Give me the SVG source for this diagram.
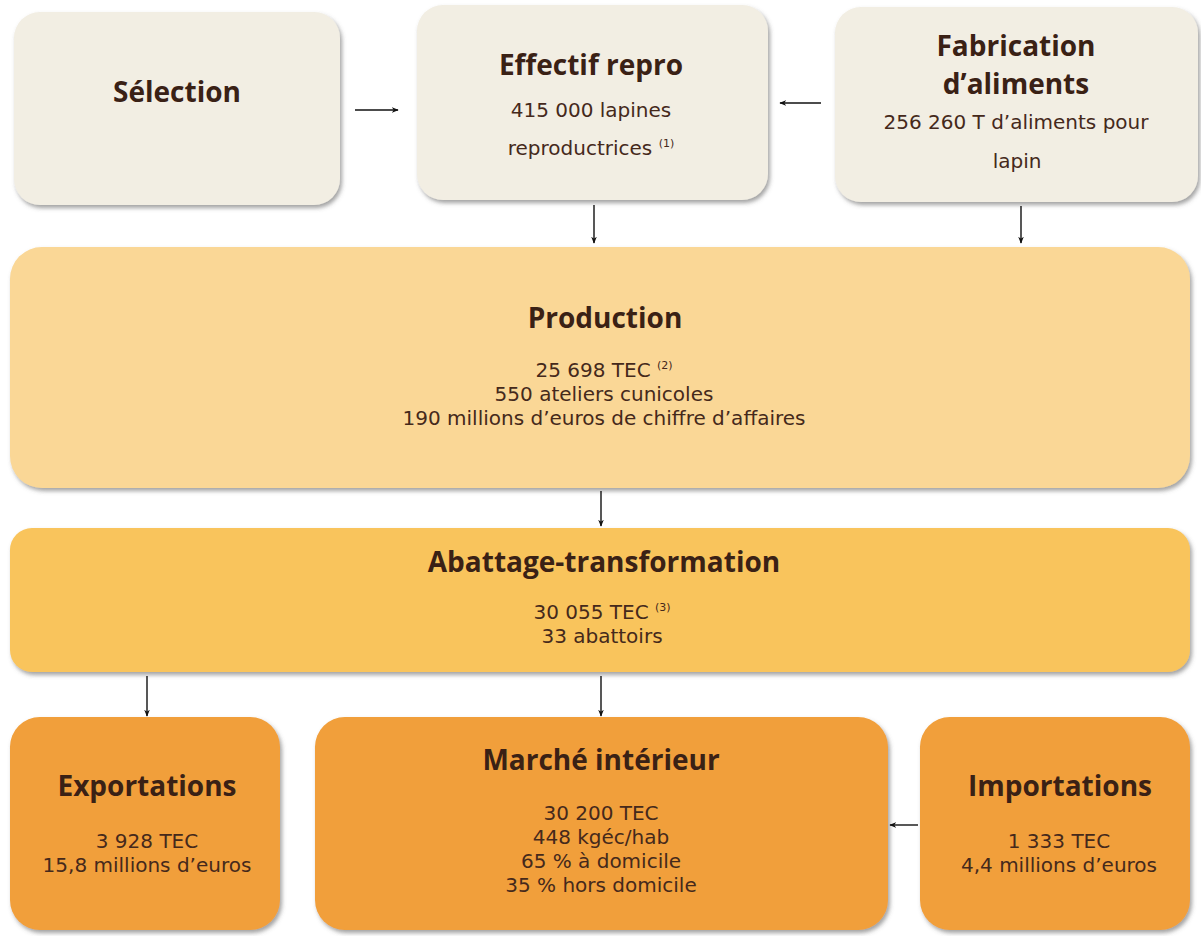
<svg xmlns="http://www.w3.org/2000/svg" width="1201" height="936" viewBox="0 0 1201 936">
<defs>
<filter id="sh" x="-5%" y="-5%" width="112%" height="115%">
<feDropShadow dx="2" dy="3" stdDeviation="2" flood-color="#555" flood-opacity="0.55"/>
</filter>
<marker id="ah" viewBox="0 0 10 10" refX="9" refY="5" markerWidth="7" markerHeight="7" orient="auto" markerUnits="userSpaceOnUse">
<path d="M0,1 L10,5 L0,9 L3,5 z" fill="#111"/>
</marker>
</defs>
<style>
.t{font-family:"Open Sans","Liberation Sans",sans-serif;font-weight:bold;fill:#3a2115;text-anchor:middle;font-size:28px}
.b{font-family:"DejaVu Sans","Open Sans",sans-serif;fill:#45291b;text-anchor:middle;font-size:20px}
.s{font-size:11px}
.top{fill:#f2eee3;filter:url(#sh)}
.prod{fill:#fad796;filter:url(#sh)}
.aba{fill:#f9c45b;filter:url(#sh)}
.bot{fill:#f19f3a;filter:url(#sh)}
.c{stroke:#111;stroke-width:1.4;fill:none;marker-end:url(#ah)}
</style>
<rect width="1201" height="936" fill="#ffffff"/>
<g id="selection">
<rect class="top" x="14" y="12" width="326" height="193" rx="26"/>
<text class="t" x="177" y="102">Sélection</text>
</g>
<g id="effectif">
<rect class="top" x="417" y="5" width="351" height="195" rx="26"/>
<text class="t" x="591" y="75">Effectif repro</text>
<text class="b" x="591" y="117">415 000 lapines</text>
<text class="b" x="591" y="155">reproductrices <tspan class="s" dy="-8">(1)</tspan></text>
</g>
<g id="fabrication">
<rect class="top" x="835" y="7" width="363" height="195" rx="26"/>
<text class="t" x="1016" y="56" font-size="27">Fabrication</text>
<text class="t" x="1016" y="93.5" font-size="27">d’aliments</text>
<text class="b" x="1016" y="129">256 260 T d’aliments pour</text>
<text class="b" x="1017" y="168">lapin</text>
</g>
<g id="production">
<rect class="prod" x="10" y="247" width="1180" height="241" rx="32"/>
<text class="t" x="605" y="328">Production</text>
<text class="b" x="604" y="377">25 698 TEC <tspan class="s" dy="-8">(2)</tspan></text>
<text class="b" x="604" y="401">550 ateliers cunicoles</text>
<text class="b" x="604" y="425">190 millions d’euros de chiffre d’affaires</text>
</g>
<g id="abattage">
<rect class="aba" x="10" y="528" width="1180" height="144" rx="22"/>
<text class="t" x="604" y="572">Abattage-transformation</text>
<text class="b" x="602" y="619">30 055 TEC <tspan class="s" dy="-8">(3)</tspan></text>
<text class="b" x="602" y="643">33 abattoirs</text>
</g>
<g id="exportations">
<rect class="bot" x="10" y="717" width="270" height="213" rx="30"/>
<text class="t" x="147" y="796">Exportations</text>
<text class="b" x="147" y="848">3 928 TEC</text>
<text class="b" x="147" y="872">15,8 millions d’euros</text>
</g>
<g id="marche">
<rect class="bot" x="315" y="717" width="573" height="213" rx="30"/>
<text class="t" x="601" y="770">Marché intérieur</text>
<text class="b" x="601" y="820">30 200 TEC</text>
<text class="b" x="601" y="844">448 kgéc/hab</text>
<text class="b" x="601" y="868">65 % à domicile</text>
<text class="b" x="601" y="892">35 % hors domicile</text>
</g>
<g id="importations">
<rect class="bot" x="920" y="717" width="270" height="213" rx="30"/>
<text class="t" x="1060" y="796">Importations</text>
<text class="b" x="1059" y="848">1 333 TEC</text>
<text class="b" x="1059" y="872">4,4 millions d’euros</text>
</g>
<g id="connectors">
<line class="c" x1="355" y1="110" x2="398" y2="110"/>
<line class="c" x1="821" y1="103" x2="780" y2="103"/>
<line class="c" x1="594" y1="205" x2="594" y2="243"/>
<line class="c" x1="1021" y1="206" x2="1021" y2="243"/>
<line class="c" x1="601" y1="491" x2="601" y2="526"/>
<line class="c" x1="147" y1="676" x2="147" y2="716"/>
<line class="c" x1="601" y1="676" x2="601" y2="716"/>
<line class="c" x1="918" y1="825" x2="890" y2="825"/>
</g>
</svg>
